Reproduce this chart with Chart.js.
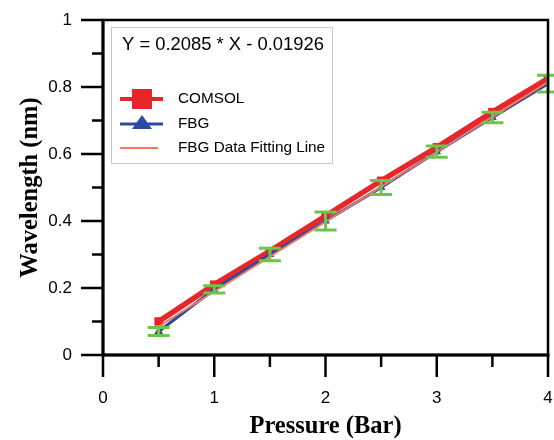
<!DOCTYPE html>
<html>
<head>
<meta charset="utf-8">
<script src="https://cdn.jsdelivr.net/npm/chart.js@4"></script>
<style>
  body { margin: 0; background: #fff; }
  #wrap { width: 554px; height: 440px; }
</style>
</head>
<body>
<div id="wrap"><canvas id="chart" width="554" height="440"></canvas></div>
<script>
// data
const pressure = [0.5, 1, 1.5, 2, 2.5, 3, 3.5, 4];
const comsol = [0.10, 0.21, 0.31, 0.415, 0.52, 0.62, 0.725, 0.825];
const fbg = [0.07, 0.196, 0.30, 0.40, 0.50, 0.607, 0.709, 0.81];
const fbgErr = [0.012, 0.011, 0.019, 0.027, 0.021, 0.017, 0.016, 0.025];
const fitX = [0.5, 4];
const fitY = [0.085, 0.815];
const fitText = 'Y = 0.2085 * X - 0.01926';
const legendNames = ['COMSOL', 'FBG', 'FBG Data Fitting Line'];

const red = '#e8262a';
const blue = '#2a48a6';
const orange = '#f07a5a';
const green = '#6cc44c';

function toPoints(xs, ys) {
    return xs.map((x, i) => ({ x: x, y: ys[i] }));
}

// error bars on the FBG points
const errorBars = {
    id: 'errorBars',
    afterDatasetsDraw(chart) {
        const ctx = chart.ctx;
        const xs = chart.scales.x, ys = chart.scales.y;
        ctx.save();
        ctx.strokeStyle = green;
        ctx.lineWidth = 3;
        pressure.forEach((p, i) => {
            const px = xs.getPixelForValue(p);
            const top = ys.getPixelForValue(fbg[i] + fbgErr[i]);
            const bot = ys.getPixelForValue(fbg[i] - fbgErr[i]);
            ctx.beginPath();
            ctx.moveTo(px, top); ctx.lineTo(px, bot);
            ctx.moveTo(px - 11, top); ctx.lineTo(px + 11, top);
            ctx.moveTo(px - 11, bot); ctx.lineTo(px + 11, bot);
            ctx.stroke();
        });
        ctx.restore();
    }
};

// frame, outward ticks (major + minor) and the legend box
const frame = {
    id: 'frame',
    afterDraw(chart) {
        const ctx = chart.ctx;
        const a = chart.chartArea;
        const xs = chart.scales.x, ys = chart.scales.y;
        ctx.save();
        ctx.strokeStyle = '#000';
        ctx.lineWidth = 2.5;
        ctx.strokeRect(a.left, a.top, a.right - a.left, a.bottom - a.top);
        ctx.lineWidth = 3;
        ctx.beginPath();
        ctx.moveTo(a.left, a.top); ctx.lineTo(a.left, a.bottom + 1.5);
        ctx.moveTo(a.left - 1.5, a.bottom); ctx.lineTo(a.right + 1.5, a.bottom);
        ctx.stroke();
        ctx.lineWidth = 2.5;
        ctx.beginPath();
        for (let k = 0; k <= 10; k++) {
            const py = ys.getPixelForValue(k / 10);
            const len = k % 2 === 0 ? 22 : 11;
            ctx.moveTo(a.left - len, py); ctx.lineTo(a.left, py);
        }
        for (let k = 0; k <= 8; k++) {
            const px = xs.getPixelForValue(k / 2);
            const len = k % 2 === 0 ? 22 : 12;
            ctx.moveTo(px, a.bottom); ctx.lineTo(px, a.bottom + len);
        }
        ctx.stroke();

        // legend
        const lx = 111, ly = 27, lw = 221, lh = 136;
        ctx.fillStyle = '#fff';
        ctx.fillRect(lx, ly, lw, lh);
        ctx.strokeStyle = '#c8c8c8';
        ctx.lineWidth = 1;
        ctx.strokeRect(lx + 0.5, ly + 0.5, lw, lh);

        ctx.fillStyle = '#000';
        ctx.font = '18.4px "Liberation Sans", Arial, sans-serif';
        ctx.textBaseline = 'middle';
        ctx.fillText(fitText, 122, 45);

        ctx.font = '15.3px "Liberation Sans", Arial, sans-serif';
        const rows = [99, 124, 148];
        const x0 = 120, x1 = 163, tx = 178;
        // COMSOL
        ctx.strokeStyle = red; ctx.lineWidth = 4;
        ctx.beginPath(); ctx.moveTo(x0, rows[0]); ctx.lineTo(x1, rows[0]); ctx.stroke();
        ctx.fillStyle = red;
        ctx.fillRect(132, rows[0] - 10, 20, 20);
        // FBG
        ctx.strokeStyle = blue; ctx.lineWidth = 3;
        ctx.beginPath(); ctx.moveTo(x0, rows[1]); ctx.lineTo(x1, rows[1]); ctx.stroke();
        ctx.fillStyle = blue;
        ctx.beginPath();
        ctx.moveTo(142, rows[1] - 9); ctx.lineTo(152, rows[1] + 5); ctx.lineTo(132, rows[1] + 5);
        ctx.closePath(); ctx.fill();
        // fit
        ctx.strokeStyle = orange; ctx.lineWidth = 2;
        ctx.beginPath(); ctx.moveTo(x0, rows[2]); ctx.lineTo(x1 - 5, rows[2]); ctx.stroke();

        ctx.fillStyle = '#000';
        legendNames.forEach((n, i) => ctx.fillText(n, tx, rows[i]));
        ctx.restore();
    }
};

// invisible tick marks just push the labels away from the axis
const hiddenTicks = (len) => ({
    display: true,
    drawOnChartArea: false,
    drawTicks: true,
    tickLength: len,
    tickColor: 'rgba(0,0,0,0)'
});

new Chart(document.getElementById('chart'), {
    type: 'scatter',
    data: {
        datasets: [
            {
                label: legendNames[2],
                data: toPoints(fitX, fitY),
                showLine: true,
                borderColor: orange,
                borderWidth: 2,
                pointRadius: 0,
                order: 1
            },
            {
                label: legendNames[1],
                data: toPoints(pressure, fbg),
                showLine: true,
                borderColor: blue,
                backgroundColor: blue,
                borderWidth: 3,
                pointStyle: 'triangle',
                pointRadius: 5,
                pointBorderWidth: 0,
                order: 2
            },
            {
                label: legendNames[0],
                data: toPoints(pressure, comsol),
                showLine: true,
                borderColor: red,
                backgroundColor: red,
                borderWidth: 5.5,
                pointStyle: 'rect',
                pointRadius: 6,
                pointBorderWidth: 0,
                order: 3
            }
        ]
    },
    options: {
        responsive: false,
        animation: false,
        layout: { padding: { left: 0, top: 20, right: 6, bottom: 0 } },
        plugins: {
            legend: { display: false },
            tooltip: { enabled: false }
        },
        scales: {
            x: {
                type: 'linear',
                min: 0, max: 4,
                grid: hiddenTicks(33),
                border: { display: false },
                ticks: {
                    stepSize: 1,
                    padding: 0,
                    color: '#000',
                    font: { family: '"Liberation Sans", Arial, sans-serif', size: 17 }
                },
                title: {
                    display: true,
                    text: 'Pressure (Bar)',
                    color: '#000',
                    padding: { top: 0, bottom: 0 },
                    font: { family: '"Liberation Serif", "Times New Roman", serif', size: 24.5, weight: 'bold', lineHeight: 1.05 }
                },
                afterFit(scale) { scale.height = 85; }
            },
            y: {
                min: 0, max: 1,
                grid: hiddenTicks(31),
                border: { display: false },
                ticks: {
                    stepSize: 0.2,
                    padding: 0,
                    color: '#000',
                    font: { family: '"Liberation Sans", Arial, sans-serif', size: 17 },
                    callback: v => String(Math.round(v * 10) / 10)
                },
                title: {
                    display: true,
                    text: 'Wavelength (nm)',
                    color: '#000',
                    padding: { top: 18, bottom: 0 },
                    font: { family: '"Liberation Serif", "Times New Roman", serif', size: 24.5, weight: 'bold', lineHeight: 1.05 }
                },
                afterFit(scale) { scale.width = 103; }
            }
        }
    },
    plugins: [errorBars, frame]
});
</script>
</body>
</html>
